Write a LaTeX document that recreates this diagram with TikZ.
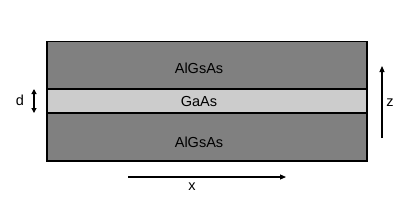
\documentclass[tikz,border=0pt]{standalone}
\usepackage{fontspec}
\setmainfont{Liberation Sans}
\usetikzlibrary{arrows.meta, positioning}

\begin{document}
\begin{tikzpicture}[x=1pt, y=1pt,
                    layer/.style={draw, line width=1.2pt, minimum width=320pt, inner sep=0pt, outer sep=0pt},
                    lbl/.style={font=\fontsize{14.5}{16}\selectfont},
                    arr/.style={-{Triangle[length=6pt, width=5pt]}, line width=1.1pt}]
                \useasboundingbox (0,0) rectangle (415,218);
                \node[layer, fill={rgb,255:red,128;green,128;blue,128}, minimum height=47pt] (top) at (207,153) {};
                \node[layer, fill={rgb,255:red,204;green,204;blue,204}, minimum height=24pt] (well) at (207,117) {};
                \node[layer, fill={rgb,255:red,128;green,128;blue,128}, minimum height=48pt] (bot) at (207,81) {};
                \node[lbl] (ttop) at (199,150) {AlGsAs};
                \node[lbl] (twell) at (199,116) {GaAs};
                \node[lbl] (tbot) at (199,76) {AlGsAs};
                % thickness d
                \coordinate (d1) at (34,129);
                \coordinate (d2) at (34,105);
                \draw[{Triangle[length=5pt, width=5pt]}-{Triangle[length=5pt, width=5pt]}, line width=1.1pt] (d1) -- (d2);
                \node[lbl] (dlab) at (20,118) {d};
                % growth direction
                \coordinate (z1) at (382,80);
                \coordinate (z2) at (382,152);
                \draw[arr] (z1) -- (z2);
                \node[lbl] (zlab) at (390,115) {z};
                % in-plane direction
                \coordinate (x1) at (128,41);
                \coordinate (x2) at (286,41);
                \draw[arr] (x1) -- (x2);
                \node[lbl] (xlab) at (192,31) {x};
            \end{tikzpicture}
\end{document}
